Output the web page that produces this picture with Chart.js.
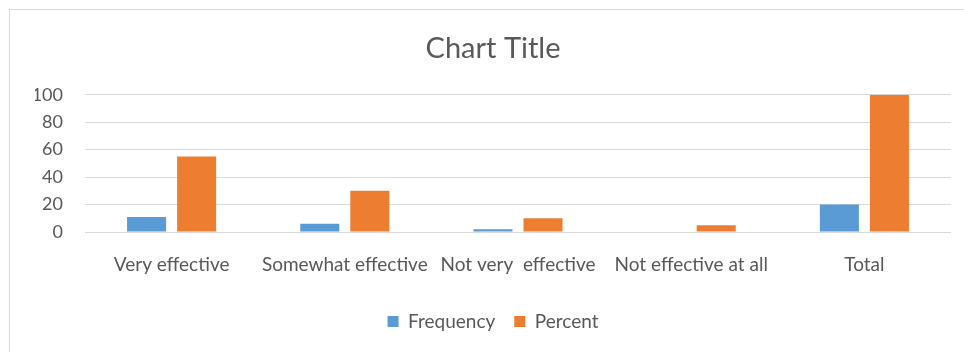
<!DOCTYPE html>
<html>
<head>
<meta charset="utf-8">
<script src="https://cdn.jsdelivr.net/npm/chart.js@4.4.0/dist/chart.umd.min.js"></script>
<style>
  html, body { margin: 0; padding: 0; background: #fff; }
  body { width: 964px; height: 352px; position: relative; overflow: hidden; }
  #frame { position: absolute; left: 9px; top: 9px; width: 980px; height: 380px; border: 1px solid #d9d9d9; }
  #wrap { position: absolute; left: 0; top: 0; width: 964px; height: 352px; }
</style>
</head>
<body>
<div id="frame"></div>
<div id="wrap"><canvas id="myChart"></canvas></div>
<script>
const categories = ['Very effective', 'Somewhat effective', 'Not very  effective', 'Not effective at all', 'Total'];
const frequency = [11, 6, 2, 0, 20];
const percent = [55, 30, 10, 5, 100];
const yTicks = [0, 20, 40, 60, 80, 100];

const ctx = document.getElementById('myChart');
const textColor = '#595959';
const fontName = 'Lato';

new Chart(ctx, {
    type: 'bar',
    data: {
        labels: categories,
        datasets: [{
            label: 'Frequency',
            data: frequency,
            backgroundColor: '#5b9bd5',
            categoryPercentage: 0.578,
            barPercentage: 0.78
        }, {
            label: 'Percent',
            data: percent,
            backgroundColor: '#ed7d31',
            categoryPercentage: 0.578,
            barPercentage: 0.78
        }]
    },
    options: {
        responsive: true,
        maintainAspectRatio: false,
        animation: false,
        layout: {
            padding: { left: 35, right: 13, top: 0, bottom: 11 }
        },
        plugins: {
            title: {
                display: true,
                text: 'Chart Title',
                color: textColor,
                font: { family: fontName, size: 29, weight: 'normal' },
                padding: { top: 31, bottom: 29 }
            },
            legend: {
                position: 'bottom',
                labels: {
                    color: textColor,
                    font: { family: fontName, size: 19 },
                    boxWidth: 11,
                    boxHeight: 11,
                    padding: 19
                }
            },
            tooltip: { enabled: false }
        },
        scales: {
            x: {
                grid: { display: false },
                border: { display: false },
                ticks: {
                    color: textColor,
                    font: { family: fontName, size: 19 },
                    padding: 13,
                    maxRotation: 0,
                    autoSkip: false
                },
                afterFit: function (scale) { scale.height = 61; }
            },
            y: {
                min: 0,
                max: 100,
                afterBuildTicks: function (scale) {
                    scale.ticks = yTicks.map(function (v) { return { value: v }; });
                },
                grid: { color: '#d9d9d9', lineWidth: 1, drawTicks: false },
                border: { display: false },
                ticks: {
                    color: textColor,
                    font: { family: fontName, size: 18 },
                    padding: 22
                },
                afterFit: function (scale) { scale.width = 50; }
            }
        }
    }
});
</script>
</body>
</html>
